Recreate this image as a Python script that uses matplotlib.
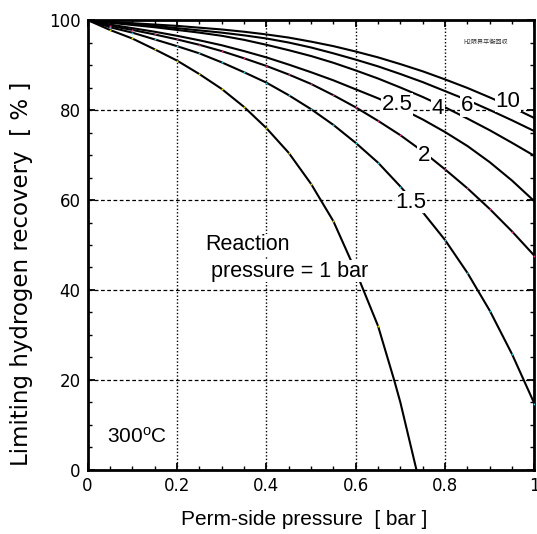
import matplotlib
matplotlib.use('Agg')
import matplotlib.pyplot as plt
from matplotlib.ticker import MultipleLocator, FuncFormatter

# Perm-side pressure [bar], sampled every 0.05
p_perm = [0.0, 0.05, 0.1, 0.15, 0.2, 0.25, 0.3, 0.35, 0.4, 0.45, 0.5,
          0.55, 0.6, 0.65, 0.7, 0.75, 0.8, 0.85, 0.9, 0.95, 1.0]

# reaction pressure 1 bar runs out before 1.0
p_perm_1 = [0.0, 0.05, 0.1, 0.15, 0.2, 0.25, 0.3, 0.35, 0.4, 0.45, 0.5,
            0.55, 0.6, 0.65, 0.686, 0.7, 0.736]
rec_1 = [100, 97.8, 95.9, 93.5, 91.0, 88.0, 84.7, 80.7, 76.0, 70.5, 63.6,
         55.3, 44.2, 32.0, 20.0, 15.0, 0.0]

rec_15 = [100, 98.4, 97.2, 95.7, 94.2, 92.6, 90.6, 88.4, 86.1, 83.3, 80.2,
          76.7, 72.7, 68.3, 63.0, 57.3, 51.1, 43.8, 35.4, 25.7, 14.7]
rec_2 = [100, 98.7, 97.8, 96.8, 95.7, 94.5, 93.1, 91.5, 89.8, 87.9, 85.8,
         83.3, 80.6, 77.6, 74.4, 70.8, 66.8, 62.6, 58.0, 53.0, 47.6]
rec_25 = [100, 99.0, 98.2, 97.4, 96.5, 95.5, 94.4, 93.1, 91.7, 90.1, 88.4,
          86.6, 84.6, 82.6, 80.4, 77.9, 75.1, 72.0, 68.4, 64.3, 59.7]
rec_4 = [100, 99.4, 98.9, 98.4, 97.8, 97.2, 96.5, 95.6, 94.5, 93.3, 92.0,
         90.5, 88.8, 87.0, 85.0, 82.9, 80.6, 78.1, 75.5, 72.7, 69.8]
rec_6 = [100, 99.5, 99.1, 98.7, 98.2, 97.7, 97.2, 96.6, 95.9, 95.0, 93.9,
         92.6, 91.2, 89.7, 88.0, 86.2, 84.2, 82.2, 80.0, 77.7, 75.3]
rec_10 = [100, 99.6, 99.3, 99.0, 98.7, 98.3, 97.9, 97.4, 96.8, 96.1, 95.2,
          94.2, 93.0, 91.7, 90.2, 88.6, 86.8, 84.9, 82.8, 80.6, 78.2]

# curve labels: text, x, y
curve_labels = [('10', 0.941, 82.0), ('6', 0.849, 80.9), ('4', 0.784, 80.3),
                ('2.5', 0.692, 81.2), ('2', 0.753, 70.0), ('1.5', 0.724, 59.5)]

plt.rcParams['font.family'] = ['Liberation Sans', 'DejaVu Sans']

fig = plt.figure(figsize=(5.37, 5.34), dpi=100)
ax = fig.add_axes([0.163, 0.1199, 0.8323, 0.8426])

# grid
for gx in [0.2, 0.4, 0.6, 0.8]:
    ax.axvline(gx, color='black', linewidth=1.0, linestyle=(0, (1, 1.5)), zorder=1)
for gy in [20, 40, 60, 80]:
    ax.axhline(gy, color='black', linewidth=0.9, linestyle=(0, (3, 2)), zorder=1)

# curves
ax.plot(p_perm_1, rec_1, color='black', linewidth=1.5, zorder=2)
for rec in [rec_15, rec_2, rec_25, rec_4, rec_6, rec_10]:
    ax.plot(p_perm, rec, color='black', linewidth=1.5, zorder=2)

# tiny colored data dots seen on the lower curves
ax.plot(p_perm_1[1:14], rec_1[1:14], 'o', color='#e8e000', markersize=1.4,
        markeredgewidth=0, zorder=3)
ax.plot(p_perm[1:], rec_15[1:], 'o', color='#30c8e0', markersize=1.4,
        markeredgewidth=0, zorder=3)
ax.plot(p_perm[1:], rec_2[1:], 'o', color='#e0308a', markersize=1.4,
        markeredgewidth=0, zorder=3)

for txt, lx, ly in curve_labels:
    ax.text(lx, ly, txt, fontsize=16, ha='center', va='center', zorder=4,
            bbox=dict(facecolor='white', edgecolor='none', pad=0.5))

box = dict(facecolor='white', edgecolor='none', pad=0.5)
ax.text(0.263, 50.0, 'Reaction', fontsize=15.5, ha='left', va='center',
        zorder=4, bbox=box)
ax.text(0.263, 44.2, ' pressure = 1 bar', fontsize=15.5, ha='left', va='center',
        zorder=4, bbox=box)
ax.text(0.044, 7.3, '300$\\mathregular{^o}$C', fontsize=15, ha='left', va='center', zorder=4)
ax.text(0.891, 95.1, 'H2限界平衡回収', fontsize=4.4, ha='center', va='center',
        family=['Noto Sans CJK JP', 'DejaVu Sans'], color='#333333')

ax.set_xlim(0, 1)
ax.set_ylim(0, 100)
ax.xaxis.set_major_locator(MultipleLocator(0.2))
ax.xaxis.set_minor_locator(MultipleLocator(0.05))
ax.yaxis.set_major_locator(MultipleLocator(20))
ax.yaxis.set_minor_locator(MultipleLocator(5))
ax.xaxis.set_major_formatter(FuncFormatter(lambda v, _: f'{v:g}'))
ax.tick_params(which='both', direction='in', top=True, right=True)
ax.tick_params(which='major', length=5, width=1.3, pad=5)
ax.tick_params(which='minor', length=3, width=1.0)
for lab in ax.get_xticklabels() + ax.get_yticklabels():
    lab.set_family('DejaVu Sans')
    lab.set_fontsize(12)
for sp in ax.spines.values():
    sp.set_linewidth(2.0)

ax.set_xlabel('Perm-side pressure  [ bar ]', fontsize=15)
ax.xaxis.set_label_coords(0.484, -0.088)
ax.set_ylabel('Limiting hydrogen recovery  [ % ]', fontsize=16.5,
              family='DejaVu Sans')
ax.yaxis.set_label_coords(-0.122, 0.436)

plt.savefig('out.png', dpi=100)
plt.close()
